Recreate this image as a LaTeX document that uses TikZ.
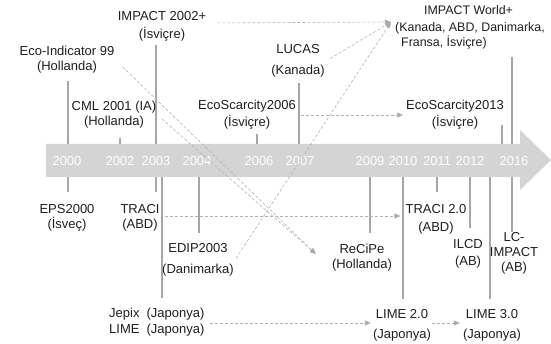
\documentclass[tikz,border=0pt]{standalone}
\usepackage{fontspec}
\setmainfont{Liberation Sans}
\usetikzlibrary{arrows.meta}
\definecolor{bandgray}{HTML}{D4D4D4}
\definecolor{tickgray}{HTML}{A6A6A6}
\definecolor{dashgray}{HTML}{B2B2B2}
\definecolor{textgray}{HTML}{1E1E1E}
\begin{document}
\begin{tikzpicture}[x=1pt,y=-1pt,
    lbl/.style={align=center,inner sep=1pt,text=textgray,font=\fontsize{13}{15}\selectfont},
    year/.style={text=white,inner sep=0pt,font=\fontsize{13}{15}\selectfont},
    tick/.style={draw=tickgray,line width=1.4pt},
    link/.style={draw=dashgray,line width=0.6pt,dash pattern=on 3pt off 2pt,
        -{Triangle[length=6pt,width=5pt,fill=tickgray]}}]
        % Draw canvas
        \useasboundingbox (0,0) rectangle (551,344);
        % Draw timeline arrow
        \fill[bandgray] (46,144) -- (520,144) -- (520,130) -- (551,160) -- (520,190) -- (520,177) -- (46,177) -- cycle;
        % Draw years
        \foreach \x/\yr in {67/2000,120/2002,156/2003,197/2004,259/2006,300/2007,370/2009,403/2010,437/2011,470/2012,514/2016}
            \node[year] (y\yr) at (\x,161) {\yr};
        % Draw ticks above the band
        \foreach \x/\top in {68/81,120/138,156/45,257/134,299/83,502/125,512/57}
            \draw[tick] (\x,\top) -- (\x,144);
        % Draw ticks below the band
        \foreach \x/\bot in {68/192,156/192,162/298,199/233,370/233,403/299,437/192,470/228,490/299,512/232}
            \draw[tick] (\x,177) -- (\x,\bot);
        % Draw methods above
        \node[lbl] (ip02) at (162,26) {IMPACT 2002+\\[3pt](İsviçre)};
        \node[lbl] (ei) at (67,60) {Eco-Indicator 99\\(Hollanda)};
        \node[lbl] (cml) at (114,115) {CML 2001 (IA)\\(Hollanda)};
        \node[lbl] (es06) at (247,115) {EcoScarcity2006\\[2pt](İsviçre)};
        \node[lbl] (lucas) at (298,61) {LUCAS\\[6pt](Kanada)};
        \node[lbl] (es13) at (455,115) {EcoScarcity2013\\[2pt](İsviçre)};
        \node[lbl,align=left,anchor=west,font=\fontsize{12.4}{15}\selectfont] (iw) at (394,27) {\hspace{29pt}IMPACT World+\\[2pt](Kanada, ABD, Danimarka,\\\hspace{6pt}Fransa, İsviçre)};
        \coordinate (iwin) at ([xshift=-3pt,yshift=5pt]iw.west);
        % Draw methods below
        \node[lbl] (eps) at (67,218) {EPS2000\\(İsveç)};
        \node[lbl] (traci) at (140,218) {TRACI\\(ABD)};
        \node[lbl] (edip) at (198,260) {EDIP2003\\[6pt](Danimarka)};
        \node[lbl,anchor=west] (jepix) at (108,323) {\begin{tabular}{@{}l@{\hspace{7pt}}l@{}}Jepix & (Japonya)\\[1pt] LIME & (Japonya)\end{tabular}};
        \node[lbl] (recipe) at (362,258) {ReCiPe\\(Hollanda)};
        \node[lbl] (traci2) at (436,219) {TRACI 2.0\\[3pt](ABD)};
        \node[lbl] (ilcd) at (468,254) {ILCD\\[2pt](AB)};
        \node[lbl] (lc) at (514,253) {LC-\\IMPACT\\(AB)};
        \node[lbl] (lime2) at (402,325) {LIME 2.0\\[5pt](Japonya)};
        \node[lbl] (lime3) at (492,325) {LIME 3.0\\[5pt](Japonya)};
        % Draw links between methods
        \draw[link,shorten <=10pt] ([yshift=3pt]ip02.east) -- (iwin);
        \draw[link,shorten <=5pt] (lucas.east) -- (iwin);
        \draw[link,shorten <=2pt] (edip.east) -- (iwin);
        \draw[link,shorten <=4pt,shorten >=2pt] (es06.east) -- (es13.west);
        \draw[link,shorten <=4pt,shorten >=4pt] ([yshift=2pt]traci.east) -- ([yshift=2pt]traci.east -| traci2.west);
        \draw[link,shorten <=4pt,shorten >=1pt] (jepix.east) -- (jepix.east -| lime2.west);
        \draw[link,shorten <=0pt,shorten >=2pt] ([yshift=2pt]lime2.east) -- ([yshift=2pt]lime3.west);
        \draw[link,shorten <=10pt] (ei.east) -- ([xshift=-15pt,yshift=4pt]recipe.west);
        \draw[link,shorten <=6pt] (cml.east) -- ([xshift=-15pt,yshift=4pt]recipe.west);
    \end{tikzpicture}
\end{document}
